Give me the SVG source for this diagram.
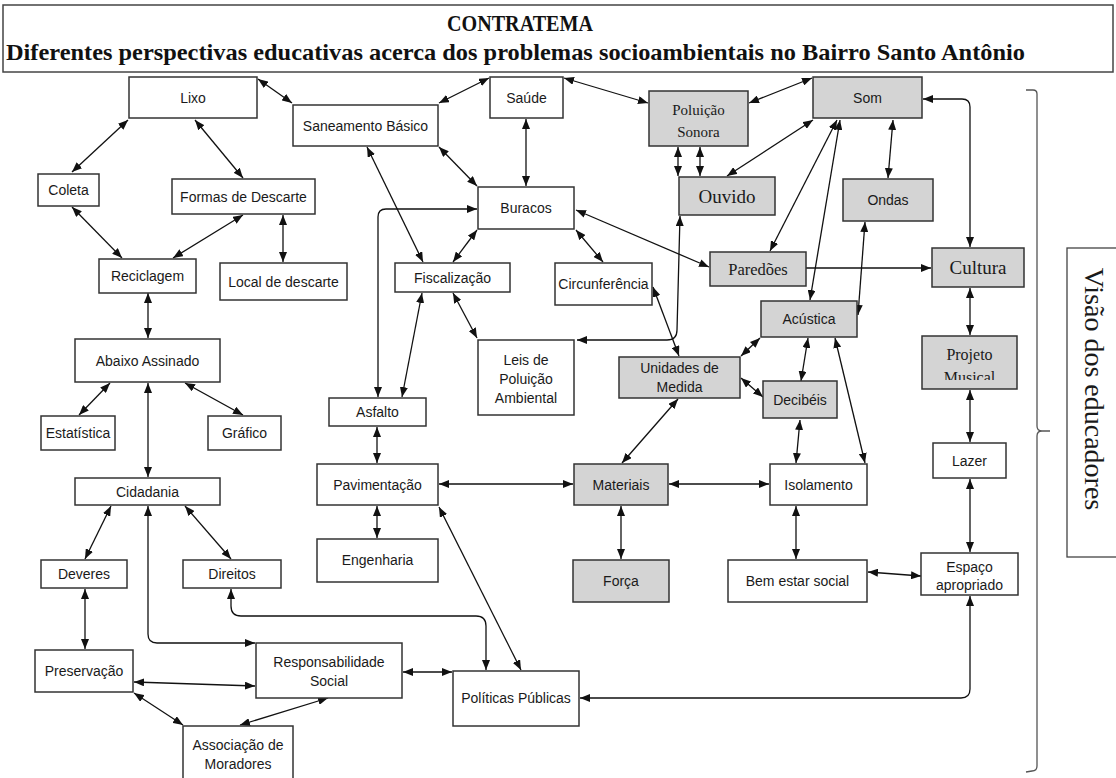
<svg xmlns="http://www.w3.org/2000/svg" width="1116" height="778" viewBox="0 0 1116 778">
<style>
.n rect{fill:#fff;stroke:#333;stroke-width:1.5}
.g rect{fill:#d4d4d4;stroke:#333;stroke-width:1.5}
.s{font-family:"Liberation Sans",Arial,sans-serif;font-size:14px;fill:#1a1a1a;text-anchor:middle}
.r{font-family:"Liberation Serif","Times New Roman",serif;fill:#1a1a1a;text-anchor:middle}
.c path{fill:none;stroke:#111;stroke-width:1.3}
.b{marker-start:url(#ah);marker-end:url(#ah)}
.e{marker-end:url(#ah)}
.t{font-family:"Liberation Serif","Times New Roman",serif;font-weight:bold;fill:#111}
</style>
<defs>
<marker id="ah" viewBox="0 0 10 8" refX="10" refY="4" markerWidth="10" markerHeight="8" markerUnits="userSpaceOnUse" orient="auto-start-reverse">
<path d="M0,0 L10,4 L0,8 z" fill="#111"/>
</marker>
<clipPath id="pm"><rect x="922" y="336" width="95" height="44"/></clipPath>
</defs>
<rect width="1116" height="778" fill="#fff"/>

<g id="header">
<rect x="3" y="5" width="1110" height="67" fill="#fff" stroke="#444" stroke-width="1.5"/>
<text class="t" x="447" y="31" font-size="24" textLength="146" lengthAdjust="spacingAndGlyphs">CONTRATEMA</text>
<text class="t" x="6" y="60" font-size="23" textLength="1019" lengthAdjust="spacingAndGlyphs">Diferentes perspectivas educativas acerca dos problemas socioambientais no Bairro Santo Antônio</text>
</g>

<g id="connectors" class="c">
<path class="b" d="M258,79 L292,103"/>
<path class="b" d="M128,120 L72,172"/>
<path class="b" d="M195,120 L243,178"/>
<path class="b" d="M72,207 L122,258"/>
<path class="b" d="M243,215 L173,258"/>
<path class="b" d="M283,215 L283,262"/>
<path class="b" d="M148,293 L148,338"/>
<path class="b" d="M110,383 L79,415"/>
<path class="b" d="M185,383 L243,415"/>
<path class="b" d="M148,383 L148,477"/>
<path class="b" d="M111,506 L85,559"/>
<path class="b" d="M185,506 L231,559"/>
<path class="b" d="M148,506 L148,634 Q148,643 157,643 L255,643"/>
<path class="b" d="M85,589 L85,649"/>
<path class="b" d="M134,682 L255,686"/>
<path class="b" d="M134,693 L183,725"/>
<path class="b" d="M328,698 L240,725"/>
<path class="b" d="M403,672 L452,672"/>
<path class="b" d="M231,589 L231,606 Q231,616 241,616 L476,616 Q486,616 486,626 L486,670"/>
<path class="b" d="M439,507 L521,670"/>
<path class="b" d="M580,698 L961,698 Q970,698 970,689 L970,596"/>
<path class="b" d="M868,572 L921,576"/>
<path class="b" d="M796,506 L796,559"/>
<path class="b" d="M796,463 L800,420"/>
<path class="b" d="M865,463 L835,338"/>
<path class="b" d="M669,484 L769,484"/>
<path class="b" d="M439,484 L573,484"/>
<path class="b" d="M622,463 L678,399"/>
<path class="b" d="M621,506 L621,559"/>
<path class="b" d="M377,427 L377,463"/>
<path class="b" d="M377,506 L377,538"/>
<path class="b" d="M477,209 L386,209 Q378,209 378,217 L378,397"/>
<path class="b" d="M422,293 L402,397"/>
<path class="b" d="M453,293 L477,338"/>
<path class="b" d="M453,262 L477,230"/>
<path class="b" d="M367,147 L423,262"/>
<path class="b" d="M439,147 L477,186"/>
<path class="b" d="M439,103 L489,78"/>
<path class="b" d="M526,119 L526,186"/>
<path class="b" d="M564,78 L648,103"/>
<path class="b" d="M576,230 L603,262"/>
<path class="b" d="M576,210 L709,267"/>
<path class="b" d="M749,103 L812,78"/>
<path class="b" d="M678,147 L678,176"/>
<path class="b" d="M700,147 L700,176"/>
<path class="b" d="M727,176 L813,120"/>
<path class="b" d="M837,120 L770,251"/>
<path class="b" d="M840,120 L810,300"/>
<path class="b" d="M680,216 L677,330 Q677,340 667,340 L577,340"/>
<path class="b" d="M653,287 L679,356"/>
<path class="b" d="M741,356 L760,338"/>
<path class="b" d="M741,378 L763,397"/>
<path class="b" d="M808,338 L801,381"/>
<path class="b" d="M865,222 L858,315"/>
<path class="b" d="M893,120 L888,178"/>
<path class="b" d="M923,99 L962,99 Q970,99 970,107 L970,247"/>
<path class="e" d="M806,268 L931,268"/>
<path class="b" d="M970,288 L970,335"/>
<path class="b" d="M970,390 L970,442"/>
<path class="b" d="M970,479 L970,552"/>
</g>

<g id="lixo" class="n"><rect x="129" y="77" width="128" height="41"/><text class="s" x="193" y="103">Lixo</text></g>
<g id="saneamento" class="n"><rect x="293" y="105" width="145" height="41"/><text class="s" x="365.5" y="130.5">Saneamento Básico</text></g>
<g id="saude" class="n"><rect x="490" y="77" width="73" height="41"/><text class="s" x="526.5" y="102.5">Saúde</text></g>
<g id="poluicao-sonora" class="g"><rect x="649" y="91" width="99" height="55"/><text class="r" font-size="15" x="698.5" y="115">Poluição</text><text class="r" font-size="15" x="698.5" y="137">Sonora</text></g>
<g id="som" class="g"><rect x="813" y="77" width="109" height="41"/><text class="s" x="867.5" y="102.5">Som</text></g>
<g id="coleta" class="n"><rect x="38" y="174" width="61" height="32"/><text class="s" x="68.5" y="195">Coleta</text></g>
<g id="formas" class="n"><rect x="172" y="179" width="143" height="35"/><text class="s" x="243.5" y="201.5">Formas de Descarte</text></g>
<g id="buracos" class="n"><rect x="478" y="187" width="96" height="42"/><text class="s" x="526" y="213">Buracos</text></g>
<g id="ouvido" class="g"><rect x="679" y="177" width="96" height="38"/><text class="r" font-size="19" x="727" y="202.5">Ouvido</text></g>
<g id="ondas" class="g"><rect x="843" y="179" width="90" height="42"/><text class="s" x="888" y="205">Ondas</text></g>
<g id="reciclagem" class="n"><rect x="99" y="259" width="97" height="34"/><text class="s" x="147.5" y="281">Reciclagem</text></g>
<g id="local" class="n"><rect x="220" y="263" width="127" height="37"/><text class="s" x="283.5" y="286.5">Local de descarte</text></g>
<g id="fiscalizacao" class="n"><rect x="395" y="263" width="115" height="29"/><text class="s" x="452.5" y="282.5">Fiscalização</text></g>
<g id="circunferencia" class="n"><rect x="555" y="263" width="97" height="42"/><text class="s" x="603.5" y="289">Circunferência</text></g>
<g id="paredoes" class="g"><rect x="710" y="252" width="96" height="34"/><text class="r" font-size="16.5" x="758" y="274.5">Paredões</text></g>
<g id="cultura" class="g"><rect x="932" y="248" width="92" height="39"/><text class="r" font-size="19" x="978" y="274">Cultura</text></g>
<g id="acustica" class="g"><rect x="761" y="301" width="96" height="36"/><text class="s" x="809" y="324">Acústica</text></g>
<g id="abaixo" class="n"><rect x="75" y="339" width="145" height="43"/><text class="s" x="147.5" y="365.5">Abaixo Assinado</text></g>
<g id="leis" class="n"><rect x="478" y="340" width="96" height="75"/><text class="s" x="526" y="365">Leis de</text><text class="s" x="526" y="384">Poluição</text><text class="s" x="526" y="403">Ambiental</text></g>
<g id="unidades" class="g"><rect x="619" y="357" width="121" height="41"/><text class="s" x="679.5" y="373">Unidades de</text><text class="s" x="679.5" y="392">Medida</text></g>
<g id="decibeis" class="g"><rect x="763" y="381" width="74" height="37"/><text class="s" x="800" y="404.5">Decibéis</text></g>
<g id="projeto" class="g"><rect x="922" y="336" width="95" height="53"/><g clip-path="url(#pm)"><text class="r" font-size="16" x="969.5" y="360">Projeto</text><text class="r" font-size="16" x="969.5" y="383">Musical</text></g></g>
<g id="asfalto" class="n"><rect x="329" y="398" width="97" height="28"/><text class="s" x="377.5" y="417">Asfalto</text></g>
<g id="estatistica" class="n"><rect x="41" y="416" width="74" height="34"/><text class="s" x="78" y="438">Estatística</text></g>
<g id="grafico" class="n"><rect x="208" y="416" width="73" height="34"/><text class="s" x="244.5" y="438">Gráfico</text></g>
<g id="lazer" class="n"><rect x="933" y="443" width="73" height="35"/><text class="s" x="969.5" y="465.5">Lazer</text></g>
<g id="cidadania" class="n"><rect x="75" y="478" width="145" height="27"/><text class="s" x="147.5" y="496.5">Cidadania</text></g>
<g id="pavimentacao" class="n"><rect x="317" y="464" width="121" height="41"/><text class="s" x="377.5" y="489.5">Pavimentação</text></g>
<g id="materiais" class="g"><rect x="574" y="464" width="94" height="41"/><text class="s" x="621" y="489.5">Materiais</text></g>
<g id="isolamento" class="n"><rect x="770" y="464" width="97" height="41"/><text class="s" x="818.5" y="489.5">Isolamento</text></g>
<g id="engenharia" class="n"><rect x="317" y="539" width="121" height="43"/><text class="s" x="377.5" y="565">Engenharia</text></g>
<g id="forca" class="g"><rect x="573" y="560" width="96" height="42"/><text class="s" x="621" y="586">Força</text></g>
<g id="bem-estar" class="n"><rect x="728" y="560" width="139" height="42"/><text class="s" x="797.5" y="586">Bem estar social</text></g>
<g id="espaco" class="n"><rect x="921" y="553" width="97" height="42"/><text class="s" x="969.5" y="572">Espaço</text><text class="s" x="969.5" y="590">apropriado</text></g>
<g id="deveres" class="n"><rect x="41" y="560" width="86" height="28"/><text class="s" x="84" y="579">Deveres</text></g>
<g id="direitos" class="n"><rect x="183" y="560" width="98" height="28"/><text class="s" x="232" y="579">Direitos</text></g>
<g id="preservacao" class="n"><rect x="35" y="650" width="98" height="42"/><text class="s" x="84" y="676">Preservação</text></g>
<g id="responsabilidade" class="n"><rect x="256" y="643" width="146" height="55"/><text class="s" x="329" y="667">Responsabilidade</text><text class="s" x="329" y="686">Social</text></g>
<g id="politicas" class="n"><rect x="453" y="671" width="126" height="55"/><text class="s" x="516" y="703">Políticas Públicas</text></g>
<g id="associacao" class="n"><rect x="183" y="726" width="110" height="56"/><text class="s" x="238" y="750">Associação de</text><text class="s" x="238" y="769">Moradores</text></g>

<g id="visao">
<path d="M1026,90 L1033,90 Q1037,90 1037,94 L1037,426 Q1037,431 1042,431 L1050,431 M1042,431 Q1037,431 1037,436 L1037,766 Q1037,771 1032,771 L1026,772" fill="none" stroke="#555" stroke-width="1.3"/>
<rect x="1067" y="248" width="60" height="309" fill="#fff" stroke="#444" stroke-width="1.3"/>
<text class="r" font-size="28" transform="translate(1085,389) rotate(90)" x="0" y="0">Visão dos educadores</text>
</g>
</svg>
